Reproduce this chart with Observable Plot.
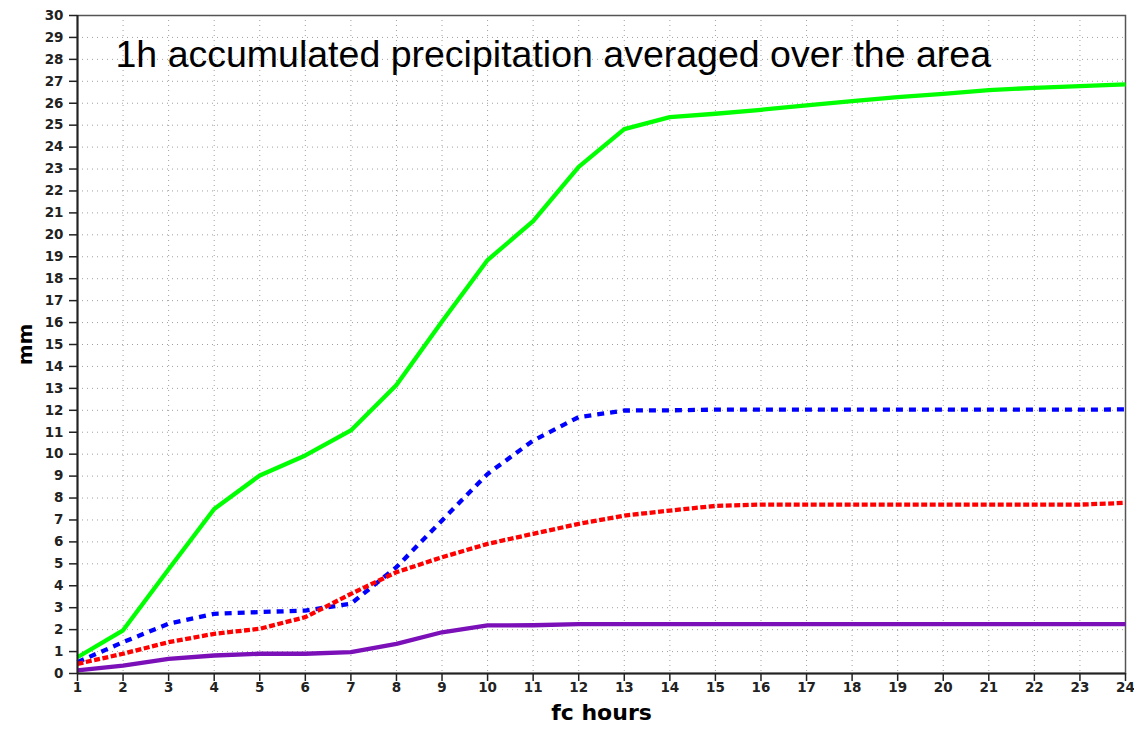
<!DOCTYPE html>
<html>
<head>
<meta charset="utf-8">
<script src="https://cdn.jsdelivr.net/npm/d3@7"></script>
<script src="https://cdn.jsdelivr.net/npm/@observablehq/plot@0.6"></script>
<style>
  html, body { margin: 0; padding: 0; background: #fff; }
  #chart svg { display: block; }
</style>
</head>
<body>
<div id="chart"></div>
<script>
const hours = [1,2,3,4,5,6,7,8,9,10,11,12,13,14,15,16,17,18,19,20,21,22,23,24];
const yTicks = d3.range(0, 31);
const title = "1h accumulated precipitation averaged over the area";
const xLabel = "fc hours";
const yLabel = "mm";

const green  = [0.74,1.97,4.75,7.5,9.03,9.94,11.08,13.15,16.05,18.85,20.62,23.1,24.82,25.37,25.52,25.7,25.9,26.1,26.28,26.43,26.6,26.7,26.78,26.86];
const blue   = [0.52,1.43,2.27,2.72,2.8,2.87,3.18,4.85,6.98,9.1,10.62,11.69,11.99,12.0,12.03,12.03,12.03,12.03,12.03,12.03,12.03,12.03,12.03,12.04];
const red    = [0.44,0.9,1.43,1.81,2.04,2.57,3.63,4.62,5.3,5.91,6.37,6.82,7.2,7.43,7.64,7.7,7.7,7.7,7.7,7.7,7.7,7.7,7.7,7.78];
const purple = [0.14,0.36,0.67,0.82,0.9,0.9,0.97,1.35,1.88,2.19,2.2,2.25,2.25,2.25,2.25,2.25,2.25,2.25,2.25,2.25,2.25,2.25,2.25,2.25];

const series = [
  {name: "green",  values: green,  color: "#00ff00", dash: null},
  {name: "blue",   values: blue,   color: "#0000ff", dash: "7,6"},
  {name: "red",    values: red,    color: "#ff0000", dash: "6,2.5"},
  {name: "purple", values: purple, color: "#7b10b8", dash: null}
];

const lineMarks = series.map(s => Plot.line(
  hours.map((h, i) => ({h, v: s.values[i]})),
  {x: "h", y: "v", stroke: s.color, strokeWidth: 4.3, strokeDasharray: s.dash, strokeLinecap: "butt", strokeLinejoin: "round"}
));

const axisFont = "'DejaVu Sans', Verdana, sans-serif";

const chart = Plot.plot({
  width: 1134,
  height: 732,
  marginLeft: 77,
  marginRight: 9,
  marginTop: 15,
  marginBottom: 59,
  style: {fontFamily: axisFont, background: "#fff", color: "#222"},
  x: {domain: [1, 24]},
  y: {domain: [0, 30]},
  marks: [
    Plot.gridX(hours, {stroke: "#a0a0a0", strokeOpacity: 1, strokeDasharray: "1,4"}),
    Plot.gridY(yTicks, {stroke: "#a0a0a0", strokeOpacity: 1, strokeDasharray: "1,4"}),
    Plot.frame({stroke: "#555", strokeWidth: 1.5}),
    Plot.text([title], {frameAnchor: "top-left", text: d => d, dx: 38, dy: 25, fontSize: 37.5, fontFamily: "'Liberation Sans', Arial, sans-serif", textAnchor: "start", lineAnchor: "top", fill: "#000"}),
    ...lineMarks,
    Plot.ruleY([0], {stroke: "#222", strokeWidth: 2}),
    Plot.ruleX([1], {stroke: "#222", strokeWidth: 2}),
    Plot.axisX(hours, {tickSize: 8, tickPadding: 1, fontSize: 13.5, fontWeight: "bold", label: null, stroke: "#222", strokeWidth: 1.5, fill: "#222"}),
    Plot.axisY(yTicks, {tickSize: 8, tickPadding: 6, fontSize: 13.5, fontWeight: "bold", label: null, stroke: "#222", strokeWidth: 1.5, fill: "#222"}),
    Plot.text([yLabel], {frameAnchor: "left", text: d => d, dx: -52, dy: 0, rotate: -90, textAnchor: "middle", fontSize: 20, fontWeight: "bold", fill: "#000"}),
    Plot.text([xLabel], {frameAnchor: "bottom", text: d => d, dy: 46, textAnchor: "middle", fontSize: 22, fontWeight: "bold", fill: "#000"})
  ]
});
document.getElementById("chart").append(chart);
</script>
</body>
</html>
